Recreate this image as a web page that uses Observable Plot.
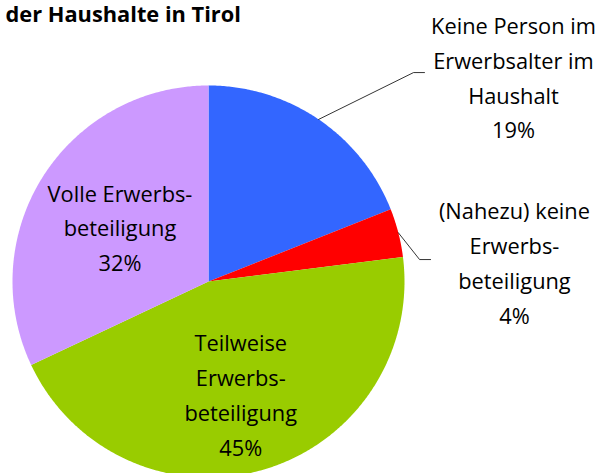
<!DOCTYPE html>
<html>
<head>
<meta charset="utf-8">
<script src="https://cdn.jsdelivr.net/npm/d3@7"></script>
<script src="https://cdn.jsdelivr.net/npm/@observablehq/plot@0.6"></script>
<style>
  html, body { margin: 0; padding: 0; background: #fff; }
  #chart svg { display: block; }
</style>
</head>
<body>
<div id="chart"></div>
<script>
// ---- data ----
const titleText = "der Haushalte in Tirol";
const categories = [
  "Keine Person im Erwerbsalter im Haushalt",
  "(Nahezu) keine Erwerbsbeteiligung",
  "Teilweise Erwerbsbeteiligung",
  "Volle Erwerbsbeteiligung"
];
const labelLines = [
  "Keine Person im\nErwerbsalter im\nHaushalt",
  "(Nahezu) keine\nErwerbs-\nbeteiligung",
  "Teilweise\nErwerbs-\nbeteiligung",
  "Volle Erwerbs-\nbeteiligung"
];
const shares = [19, 4, 45, 32];
const colors = ["#3366FF", "#FF0000", "#99CC00", "#CC99FF"];

// ---- layout (pie units, radius = 1) ----
const W = 603, H = 473;
const cx = 208, cy = 281, R = 196;
const labelLayout = [
  {outside: true, u: 1.556, v: 1.054},
  {outside: true, u: 1.561, v: 0.108},
  {outside: false, k: 0.59},
  {outside: false, k: 0.535}
];
const leaderLayout = [
  {slice: 0, elbow: [1.046, 1.066], end: [1.102, 1.066]},
  {slice: 1, elbow: [1.077, 0.112], end: [1.133, 0.112]}
];

const arcs = d3.pie().sort(null).value(d => d)(shares);
const pt = (a, r) => [r * Math.sin(a), r * Math.cos(a)];

const polys = [];
arcs.forEach((a, i) => {
  const n = Math.max(4, Math.ceil((a.endAngle - a.startAngle) / (Math.PI / 360)));
  polys.push({cat: categories[i], u: 0, v: 0});
  for (let j = 0; j <= n; j++) {
    const t = a.startAngle + (a.endAngle - a.startAngle) * j / n;
    const [u, v] = pt(t, 1);
    polys.push({cat: categories[i], u, v});
  }
  polys.push({cat: categories[i], u: 0, v: 0});
});

const labels = arcs.map((a, i) => {
  const L = labelLayout[i];
  const mid = (a.startAngle + a.endAngle) / 2;
  const [u, v] = L.outside ? [L.u, L.v] : pt(mid, L.k);
  return {text: labelLines[i] + "\n" + shares[i] + "%", u, v};
});

const leaders = [];
leaderLayout.forEach((l, idx) => {
  const a = arcs[l.slice];
  const mid = (a.startAngle + a.endAngle) / 2;
  const [u0, v0] = pt(mid, 1);
  leaders.push({id: idx, u: u0, v: v0});
  leaders.push({id: idx, u: l.elbow[0], v: l.elbow[1]});
  leaders.push({id: idx, u: l.end[0], v: l.end[1]});
});

const chart = Plot.plot({
  width: W, height: H,
  margin: 0,
  style: {fontFamily: "'Open Sans', sans-serif", background: "#fff"},
  x: {domain: [-cx / R, (W - cx) / R], range: [0, W], axis: null},
  y: {domain: [(cy - H) / R, cy / R], range: [H, 0], axis: null},
  color: {domain: categories, range: colors},
  marks: [
    Plot.line(polys, {x: "u", y: "v", z: "cat", fill: "cat", stroke: "none", curve: "linear-closed"}),
    Plot.line(leaders, {x: "u", y: "v", z: "id", stroke: "#000", strokeWidth: 0.8}),
    Plot.text(labels, {x: "u", y: "v", text: "text", fontFamily: "Open Sans", fontSize: 21.8, lineHeight: 1.6, lineAnchor: "middle", textAnchor: "middle", fill: "#000"}),
    Plot.text([titleText], {frameAnchor: "top-left", text: d => d, dx: 5, dy: 15, fontFamily: "Open Sans", fontSize: 21.8, fontWeight: "bold", textAnchor: "start", lineAnchor: "middle", fill: "#000"})
  ]
});
document.getElementById("chart").appendChild(chart);
</script>
</body>
</html>
